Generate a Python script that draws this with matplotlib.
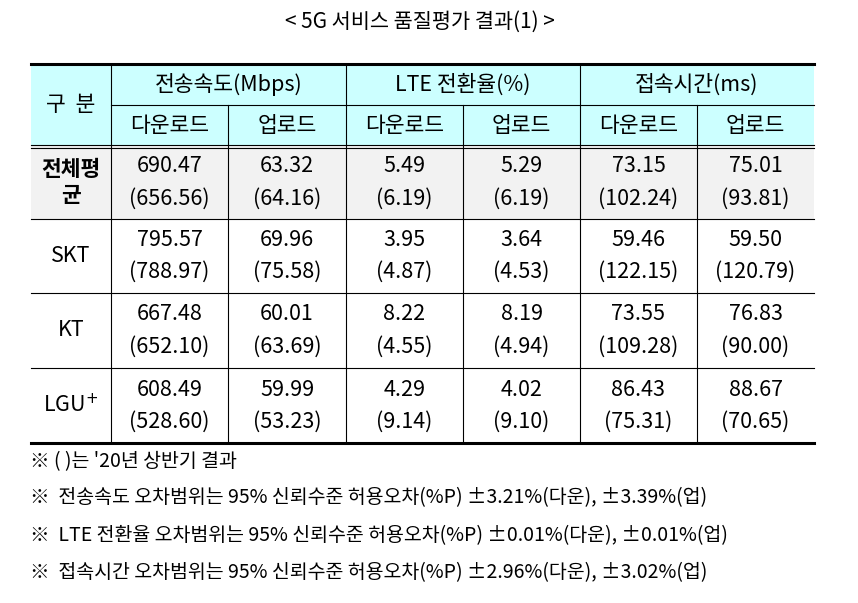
import matplotlib
matplotlib.use('Agg')
import matplotlib.pyplot as plt
from matplotlib.patches import Rectangle

plt.rcParams['font.family'] = ['Noto Sans CJK KR', 'DejaVu Sans']

title = '< 5G 서비스 품질평가 결과(1) >'
groups = ['전송속도(Mbps)', 'LTE 전환율(%)', '접속시간(ms)']
subs = ['다운로드', '업로드']
row_labels = ['전체평\n균', 'SKT', 'KT', 'LGU$^{+}$']
values = [
    ['690.47', '63.32', '5.49', '5.29', '73.15', '75.01'],
    ['795.57', '69.96', '3.95', '3.64', '59.46', '59.50'],
    ['667.48', '60.01', '8.22', '8.19', '73.55', '76.83'],
    ['608.49', '59.99', '4.29', '4.02', '86.43', '88.67'],
]
prev = [
    ['656.56', '64.16', '6.19', '6.19', '102.24', '93.81'],
    ['788.97', '75.58', '4.87', '4.53', '122.15', '120.79'],
    ['652.10', '63.69', '4.55', '4.94', '109.28', '90.00'],
    ['528.60', '53.23', '9.14', '9.10', '75.31', '70.65'],
]
notes = [
    '※ ( )는 \'20년 상반기 결과',
    '※  전송속도 오차범위는 95% 신뢰수준 허용오차(%P) ±3.21%(다운), ±3.39%(업)',
    '※  LTE 전환율 오차범위는 95% 신뢰수준 허용오차(%P) ±0.01%(다운), ±0.01%(업)',
    '※  접속시간 오차범위는 95% 신뢰수준 허용오차(%P) ±2.96%(다운), ±3.02%(업)',
]

W, H = 858, 603
fig = plt.figure(figsize=(W / 100, H / 100), dpi=100)
ax = fig.add_axes([0, 0, 1, 1])
ax.set_xlim(0, W)
ax.set_ylim(H, 0)
ax.axis('off')

xs = [31, 111, 228, 346, 463, 580, 697, 814]
ys = [64, 105, 146, 219, 293, 368, 443]
header_bg = '#ccffff'
fs = 15.5

ax.text(420, 22, title, ha='center', va='center', fontsize=15)

# backgrounds
ax.add_patch(Rectangle((xs[0], ys[0]), xs[-1] - xs[0], ys[2] - ys[0], fc=header_bg, ec='none'))
ax.add_patch(Rectangle((xs[0], ys[2]), xs[-1] - xs[0], ys[3] - ys[2], fc='#f2f2f2', ec='none'))

# grid lines
lc = 'black'
ax.plot([xs[0], xs[-1]], [ys[0], ys[0]], color=lc, lw=2.2)
ax.plot([xs[1], xs[-1]], [ys[1], ys[1]], color=lc, lw=0.8)
ax.plot([xs[0], xs[-1]], [ys[2] - 1.5, ys[2] - 1.5], color=lc, lw=0.8)
ax.plot([xs[0], xs[-1]], [ys[2] + 1.5, ys[2] + 1.5], color=lc, lw=0.8)
for y in ys[3:-1]:
    ax.plot([xs[0], xs[-1]], [y, y], color=lc, lw=0.8)
ax.plot([xs[0], xs[-1]], [ys[-1], ys[-1]], color=lc, lw=2.2)
for i, x in enumerate(xs[1:-1], start=1):
    y0 = ys[1] if i % 2 == 0 else ys[0]
    ax.plot([x, x], [y0, ys[-1]], color=lc, lw=0.8)

# header text
ax.text((xs[0] + xs[1]) / 2, (ys[0] + ys[2]) / 2, '구  분', ha='center', va='center', fontsize=fs)
for g, name in enumerate(groups):
    ax.text((xs[1 + 2 * g] + xs[3 + 2 * g]) / 2, (ys[0] + ys[1]) / 2, name,
            ha='center', va='center', fontsize=fs)
    for s, sub in enumerate(subs):
        c = 1 + 2 * g + s
        ax.text((xs[c] + xs[c + 1]) / 2, (ys[1] + ys[2]) / 2, sub,
                ha='center', va='center', fontsize=fs)

# body
for r in range(len(row_labels)):
    y0, y1 = ys[2 + r], ys[3 + r]
    ym = (y0 + y1) / 2
    ax.text((xs[0] + xs[1]) / 2, ym, row_labels[r], ha='center', va='center',
            fontsize=fs, fontweight='bold' if r == 0 else 'normal', linespacing=1.3)
    for c in range(6):
        xm = (xs[c + 1] + xs[c + 2]) / 2
        ax.text(xm, ym - 16, values[r][c], ha='center', va='center', fontsize=fs)
        ax.text(xm, ym + 16, '(' + prev[r][c] + ')', ha='center', va='center', fontsize=fs)

for i, n in enumerate(notes):
    ax.text(30, [462, 498, 536, 573][i], n, ha='left', va='center', fontsize=14)

fig.savefig('out.png', dpi=100)
